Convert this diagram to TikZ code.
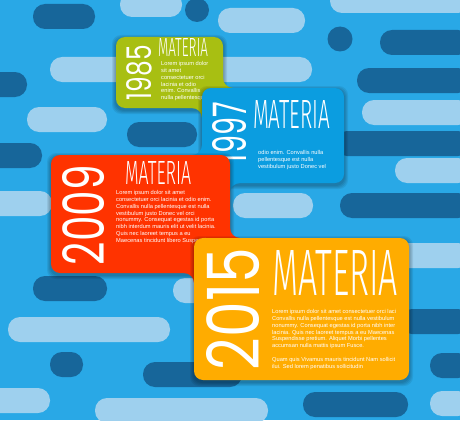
\documentclass[tikz,border=0pt]{standalone}
\usepackage{graphicx}
\usepackage{fontspec}
\setmainfont{Liberation Sans}
\newfontfamily\yearfont{Poppins}
\newfontfamily\matfont{Fira Sans Light}
\definecolor{bg}{HTML}{29A8E6}
\definecolor{pilldark}{HTML}{17669A}
\definecolor{pilllight}{HTML}{9ED0EE}
\definecolor{boxgreen}{HTML}{A8BF12}
\definecolor{boxblue}{HTML}{0B9DE0}
\definecolor{boxred}{HTML}{FF3300}
\definecolor{boxorange}{HTML}{FFAC00}
\tikzset{
  darkpill/.style={fill=pilldark, rounded corners=12pt},
  lightpill/.style={fill=pilllight, rounded corners=12pt},
  card/.style={rounded corners=9pt},
  bodytext/.style={anchor=north west, inner sep=0pt, align=left, text=white,
    font=\fontsize{5.7}{6.9}\selectfont},
  yeartext/.style={inner sep=0pt, text=white, rotate=90, font=\yearfont},
  mattext/.style={inner sep=0pt, text=white, font=\matfont},
}
\newcommand\pd[3]{\fill[darkpill] (#1,#2) rectangle (#3,#2+25);}
\newcommand\pl[3]{\fill[lightpill] (#1,#2) rectangle (#3,#2+25);}
% fillet: colour, corner x, corner y, dx, dy
\newcommand\fillet[5]{\fill[#1] ({#2+#4*10},{#3-#5*1}) -- ({#2-#4*1},{#3-#5*1}) -- ({#2-#4*1},{#3+#5*10}) -- (#2,{#3+#5*10}) .. controls (#2,{#3+#5*4.5}) and ({#2+#4*4.5},#3) .. ({#2+#4*10},#3) -- cycle;}
\newcommand\softshadow[4]{\foreach \k in {1,...,4}{\fill[black,opacity=0.07,rounded corners=9pt] (#1-\k,#2-\k+2) rectangle (#3+\k,#4+\k+2);}}
\begin{document}
\begin{tikzpicture}[x=1pt,y=-1pt]
\useasboundingbox (0,0) rectangle (460,420);
\clip (0,0) rectangle (460,420);
\fill[bg] (0,0) rectangle (460,420);
% light pills
\pl{120}{-8}{182}
\pl{218}{8}{305}
\pl{330}{-12}{470}
\pl{50}{57}{312}
\pl{27}{107}{107}
\pl{362}{100}{470}
\pl{-20}{191}{52}
\pl{233}{193}{313}
\pl{395}{158}{470}
\pl{380}{243}{470}
\pl{173}{278}{230}
\pl{8}{317}{170}
\pl{-20}{388}{50}
\pl{95}{398}{268}
\pl{430}{391}{470}
% dark pills
\pd{33}{4}{95}
\fill[pilldark] (197,10) circle (12);
\fill[pilldark] (340,39) circle (12.5);
\pd{380}{30}{470}
\pd{-20}{72}{27}
\pd{357}{68}{470}
\pd{127}{122}{197}
\pd{-20}{143}{42}
\pd{335}{131}{470}
\pd{340}{193}{470}
\pd{33}{276}{107}
\pd{400}{309}{470}
\pd{50}{352}{83}
\pd{143}{362}{242}
\pd{430}{353}{470}
\pd{303}{392}{408}
% 1985
\softshadow{116}{37}{223}{108}
\fill[boxgreen,card] (116,37) rectangle (223,108);
\fillet{boxgreen}{223}{88}{1}{-1}
\fillet{boxgreen}{202}{108}{-1}{1}
\node[yeartext] (y1985) at (139.5,72.5) {\resizebox{55pt}{25pt}{1985}};
\node[mattext] (m1985) at (183,48) {\resizebox{50pt}{18pt}{MATERIA}};
\node[bodytext] (t1985) at (161,61) {Lorem ipsum dolor\\sit amet\\consectetuer orci\\lacinia et odio\\enim. Convallis\\nulla pellentesque};
% 1997
\softshadow{202}{88}{344}{183}
\fill[boxblue,card] (202,88) rectangle (344,183);
\fillet{boxblue}{202}{155}{-1}{-1}
\fillet{boxblue}{230}{183}{1}{1}
\node[yeartext] (y1997) at (230,132.5) {\resizebox{61pt}{34pt}{1997}};
\node[mattext] (m1997) at (291.5,114) {\resizebox{77pt}{28pt}{MATERIA}};
\node[bodytext] (t1997) at (258,150) {odio enim. Convallis nulla\\pellentesque est nulla\\vestibulum justo Donec vel};
% 2009
\softshadow{51}{155}{230}{273}
\fill[boxred,card] (51,155) rectangle (230,273);
\fillet{boxred}{194}{273}{-1}{1}
\fillet{boxred}{230}{238}{1}{-1}
\node[yeartext] (y2009) at (84,215) {\resizebox{100pt}{42pt}{2009}};
\node[mattext] (m2009) at (158,172.5) {\resizebox{66pt}{23pt}{MATERIA}};
\node[bodytext] (t2009) at (116,190) {Lorem ipsum dolor sit amet\\consectetuer orci lacinia et odio enim.\\Convallis nulla pellentesque est nulla\\vestibulum justo Donec vel orci\\nonummy. Consequat egestas id porta\\nibh interdum mauris elit ut velit lacinia.\\Quis nec laoreet tempus a eu\\Maecenas tincidunt libero Suspendisse};
% 2015
\softshadow{194}{238}{409}{380}
\fill[boxorange,card] (194,238) rectangle (409,380);
\node[yeartext] (y2015) at (233.5,309) {\resizebox{122pt}{53pt}{2015}};
\node[mattext] (m2015) at (335,272.5) {\resizebox{126pt}{45pt}{MATERIA}};
\node[bodytext] (t2015) at (272,309) {Lorem ipsum dolor sit amet consectetuer orci laci\\Convallis nulla pellentesque est nulla vestibulum\\nonummy. Consequat egestas id porta nibh inter\\lacinia. Quis nec laoreet tempus a eu Maecenas\\Suspendisse pretium. Aliquet Morbi pellentes\\accumsan nulla mattis ipsum Fusce.\\[6.9pt]Quam quis Vivamus mauris tincidunt Nam sollicit\\ilui. Sed lorem penatibus sollicitudin};
\end{tikzpicture}
\end{document}
